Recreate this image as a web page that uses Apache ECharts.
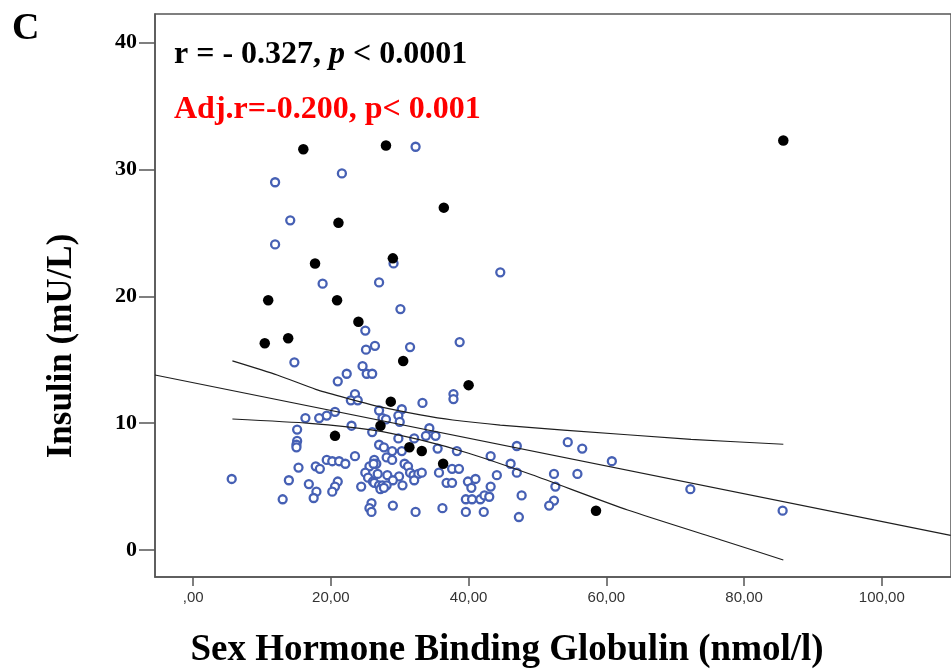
<!DOCTYPE html>
<html>
<head>
<meta charset="utf-8">
<script src="https://cdn.jsdelivr.net/npm/echarts@6/dist/echarts.min.js"></script>
<style>
  html, body { margin: 0; padding: 0; background: #ffffff; }
  #chart { width: 951px; height: 670px; }
</style>
</head>
<body>
<div id="chart"></div>
<script>
// Axis ticks and their labels
const yTicks = [0, 10, 20, 30, 40];
const xTicks = [0, 20, 40, 60, 80, 100];
const xTickLabels = [',00', '20,00', '40,00', '60,00', '80,00', '100,00'];

// SHBG (nmol/l) vs insulin (mU/L), open markers
const openPoints = [
  [11.9,29.0],[21.6,29.7],[32.3,31.8],[14.1,26.0],[11.9,24.1],[29.1,22.6],[44.6,21.9],[18.8,21.0],[27.0,21.1],[30.1,19.0],
  [25.0,17.3],[38.7,16.4],[26.4,16.1],[25.1,15.8],[31.5,16.0],[14.7,14.8],[24.6,14.5],[22.3,13.9],[25.2,13.9],[26.0,13.9],
  [21.0,13.3],[23.5,12.3],[22.9,11.8],[23.9,11.8],[33.3,11.6],[37.8,12.3],[37.8,11.9],[20.6,10.9],[27.0,11.0],[30.3,11.1],
  [16.3,10.4],[18.3,10.4],[19.4,10.6],[27.5,10.4],[28.0,10.3],[29.8,10.6],[30.0,10.1],[23.0,9.8],[15.1,9.5],[26.0,9.3],
  [34.3,9.6],[33.8,9.0],[35.2,9.0],[29.8,8.8],[32.1,8.8],[15.1,8.6],[15.0,8.3],[15.0,8.1],[47.0,8.2],[27.0,8.3],
  [27.7,8.1],[28.9,7.8],[30.3,7.8],[35.5,8.0],[38.3,7.8],[43.2,7.4],[46.1,6.8],[23.5,7.4],[19.4,7.1],[20.2,7.0],
  [21.2,7.0],[22.1,6.8],[26.3,7.1],[26.6,6.8],[28.1,7.3],[28.9,7.1],[30.7,6.8],[31.2,6.6],[25.6,6.6],[26.2,6.8],
  [15.3,6.5],[17.8,6.6],[18.4,6.4],[25.0,6.1],[26.8,6.0],[28.2,5.9],[29.9,5.8],[31.5,6.1],[32.0,5.9],[32.7,6.0],
  [33.2,6.1],[35.7,6.1],[37.6,6.4],[38.6,6.4],[47.0,6.1],[44.1,5.9],[32.1,5.5],[25.4,5.7],[26.1,5.4],[29.0,5.5],
  [5.6,5.6],[13.9,5.5],[16.8,5.2],[24.4,5.0],[26.3,5.3],[27.0,5.1],[27.5,5.1],[28.1,5.1],[30.4,5.1],[21.0,5.4],
  [20.6,5.0],[20.2,4.6],[17.9,4.6],[17.5,4.1],[13.0,4.0],[27.2,4.8],[27.7,4.9],[36.8,5.3],[37.6,5.3],[39.9,5.4],
  [41.0,5.6],[40.4,4.9],[43.2,5.0],[47.7,4.3],[39.6,4.0],[40.5,4.0],[41.7,4.0],[42.3,4.3],[43.0,4.2],[25.9,3.7],
  [25.6,3.3],[25.9,3.0],[29.0,3.5],[32.3,3.0],[36.2,3.3],[39.6,3.0],[42.2,3.0],[47.3,2.6],[54.4,8.5],[56.5,8.0],
  [60.8,7.0],[52.4,6.0],[55.8,6.0],[52.6,5.0],[52.4,3.9],[51.7,3.5],[72.2,4.8],[85.6,3.1]
];

// Filled markers
const filledPoints = [
  [16.0,31.6],[28.0,31.9],[36.4,27.0],[21.1,25.8],[17.7,22.6],[29.0,23.0],[10.9,19.7],
  [20.9,19.7],[24.0,18.0],[13.8,16.7],[10.4,16.3],[30.5,14.9],[40.0,13.0],[28.7,11.7],
  [27.2,9.8],[20.6,9.0],[31.4,8.1],[33.2,7.8],[36.3,6.8],[58.5,3.1],[85.7,32.3]
];

// Fit line and its 95% confidence band
const fitLine = [[-5.54,13.8],[110,1.15]];
const upperBand = [
  [5.7,14.91],[12.2,13.80],[17.8,12.67],[21.5,12.09],[27.0,11.30],[33.0,10.65],
  [37.7,10.25],[44.6,9.85],[53.8,9.46],[72.3,8.73],[85.7,8.34]
];
const lowerBand = [
  [5.7,10.33],[16.9,9.99],[26.1,9.46],[33.0,8.68],[40.0,7.63],[49.2,5.93],
  [63.1,3.15],[76.9,0.75],[85.7,-0.79]
];

const SERIF = '"Liberation Serif", "Times New Roman", serif';
const SANS = '"Liberation Sans", Arial, sans-serif';
const FRAME = '#555555';

const chart = echarts.init(document.getElementById('chart'), null, { renderer: 'canvas' });

const lineStyleFit = { color: '#1e1e1e', width: 1.2 };

chart.setOption({
  backgroundColor: '#ffffff',
  animation: false,
  grid: {
    left: 155, top: 14, bottom: 93, right: -38,
    show: true, borderColor: FRAME, borderWidth: 1.5, backgroundColor: 'transparent'
  },
  xAxis: {
    type: 'value', min: -5.54, max: 110.05,
    splitLine: { show: false },
    axisLine: { show: true, onZero: false, lineStyle: { color: FRAME, width: 1.5 } },
    axisTick: { show: true, length: 9, lineStyle: { color: FRAME, width: 1.5 }, customValues: xTicks },
    axisLabel: {
      show: true, margin: 13, fontFamily: SANS, fontSize: 15, color: '#333333',
      customValues: xTicks,
      formatter: v => xTickLabels[xTicks.indexOf(v)]
    }
  },
  yAxis: {
    type: 'value', min: -2.13, max: 42.27,
    splitLine: { show: false },
    axisLine: { show: true, onZero: false, lineStyle: { color: FRAME, width: 1.5 } },
    axisTick: { show: true, length: 16, lineStyle: { color: FRAME, width: 1.5 }, customValues: yTicks },
    axisLabel: {
      show: true, margin: 18, fontFamily: SERIF, fontWeight: 'bold', fontSize: 22, color: '#000000',
      customValues: yTicks
    }
  },
  series: [
    {
      type: 'scatter', data: openPoints, symbol: 'circle', symbolSize: 8,
      itemStyle: { color: '#ffffff', borderColor: '#4660b4', borderWidth: 2.3, opacity: 1 },
      z: 2
    },
    {
      type: 'scatter', data: filledPoints, symbol: 'circle', symbolSize: 10.5,
      itemStyle: { color: '#000000', opacity: 1 },
      z: 3
    },
    {
      type: 'line', data: fitLine, showSymbol: false, symbol: 'none',
      lineStyle: lineStyleFit, z: 4
    },
    {
      type: 'line', data: upperBand, showSymbol: false, symbol: 'none', smooth: 0.2,
      lineStyle: lineStyleFit, z: 4
    },
    {
      type: 'line', data: lowerBand, showSymbol: false, symbol: 'none', smooth: 0.2,
      lineStyle: lineStyleFit, z: 4
    }
  ],
  graphic: [
    {
      type: 'text', left: 12, top: 10,
      style: { text: 'C', font: 'bold 38px ' + SERIF, fill: '#000000' }
    },
    {
      type: 'text', x: 174, y: 55,
      style: {
        text: '{a|r = - 0.327, }{b|p}{a| < 0.0001}',
        verticalAlign: 'middle', align: 'left',
        rich: {
          a: { fontFamily: SERIF, fontWeight: 'bold', fontSize: 32, fill: '#000000', color: '#000000' },
          b: { fontFamily: SERIF, fontWeight: 'bold', fontStyle: 'italic', fontSize: 32, fill: '#000000', color: '#000000' }
        }
      }
    },
    {
      type: 'text', x: 174, y: 110,
      style: {
        text: 'Adj.r=-0.200, p< 0.001',
        font: 'bold 32px ' + SERIF, fill: '#ff0000',
        verticalAlign: 'middle', align: 'left'
      }
    },
    {
      type: 'text', x: 62, y: 346, rotation: Math.PI / 2,
      style: {
        text: 'Insulin (mU/L)',
        font: 'bold 35px ' + SERIF, fill: '#000000',
        verticalAlign: 'middle', align: 'center'
      }
    },
    {
      type: 'text', x: 507, y: 650,
      style: {
        text: 'Sex Hormone Binding Globulin (nmol/l)',
        font: 'bold 37px ' + SERIF, fill: '#000000',
        verticalAlign: 'middle', align: 'center'
      }
    }
  ]
});
</script>
</body>
</html>
